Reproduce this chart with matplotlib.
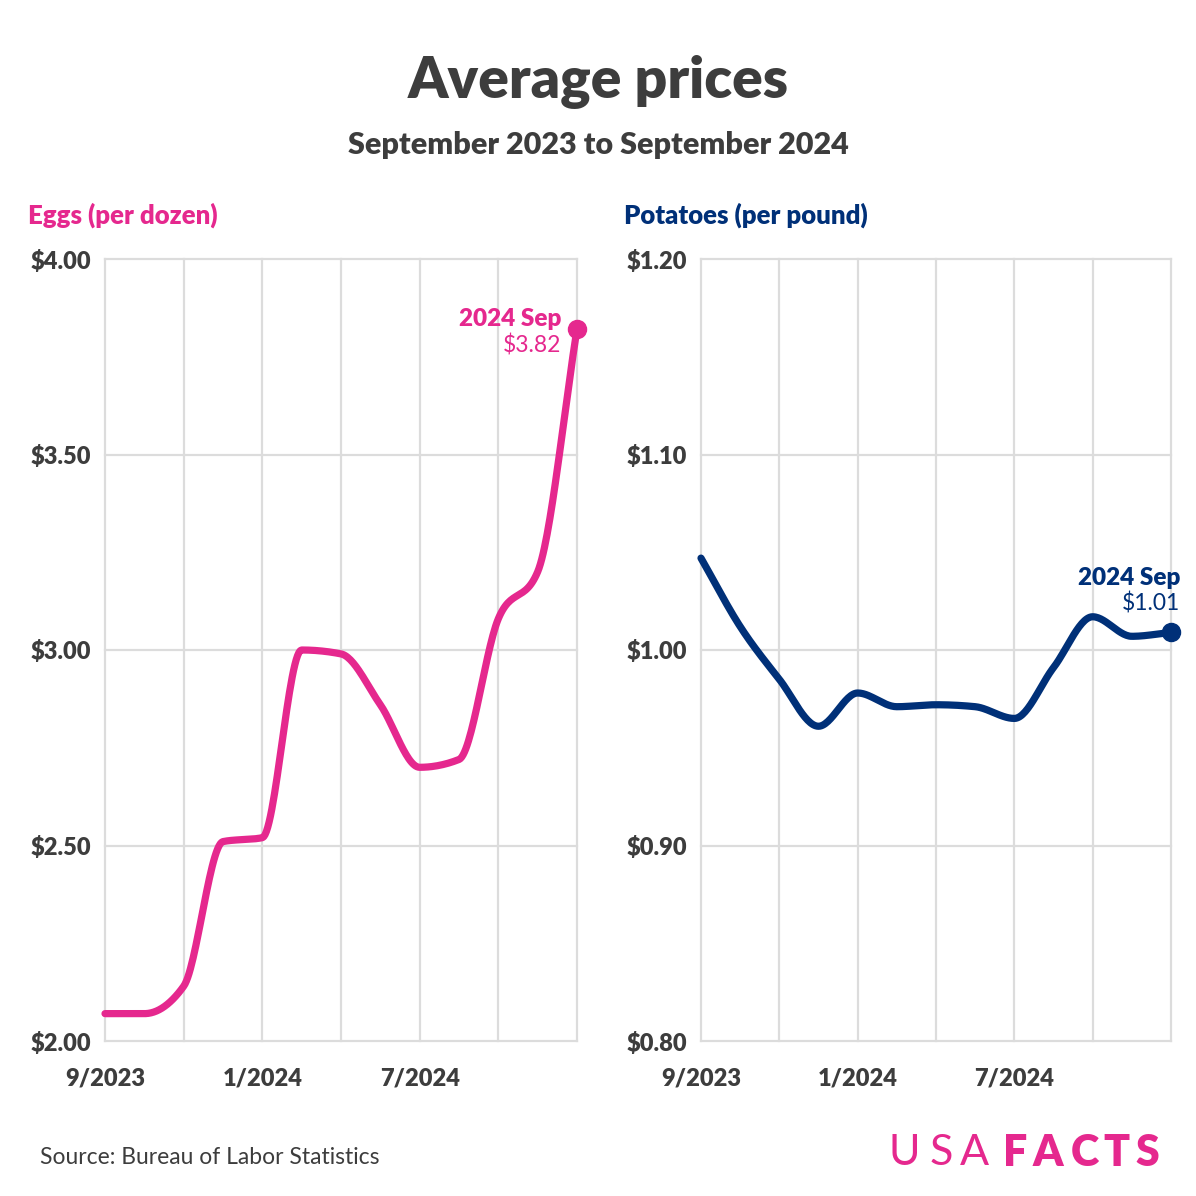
import matplotlib
matplotlib.use("Agg")
import matplotlib.pyplot as plt
import numpy as np

plt.rcParams['font.family'] = ['Lato', 'DejaVu Sans']

# donnees (prix moyens BLS, sept 2023 -> sept 2024)
months = ["9/2023", "10/2023", "11/2023", "12/2023", "1/2024", "2/2024", "3/2024",
          "4/2024", "5/2024", "6/2024", "7/2024", "8/2024", "9/2024"]
eggs = [2.07, 2.07, 2.14, 2.51, 2.52, 3.00, 2.99, 2.86, 2.70, 2.72, 3.08, 3.20, 3.82]
potatoes = [1.047, 1.012, 0.985, 0.961, 0.978, 0.971, 0.972, 0.971, 0.965, 0.991, 1.017, 1.007, 1.009]

xtick_pos = [0, 4, 8]
xtick_labels = ["9/2023", "1/2024", "7/2024"]
eggs_ticks = [2.0, 2.5, 3.0, 3.5, 4.0]
pot_ticks = [0.8, 0.9, 1.0, 1.1, 1.2]

PINK = '#e5288e'
NAVY = '#003078'
TXT = '#3d3d3d'
GRID = '#dcdcdc'


# courbe monotone (comme d3 curveMonotoneX) pour le trace
def monotone(x, y, n=30):
    x = np.asarray(x, float)
    y = np.asarray(y, float)
    h = np.diff(x)
    d = np.diff(y) / h
    m = np.zeros_like(y)
    m[0] = d[0]
    m[-1] = d[-1]
    for i in range(1, len(y) - 1):
        if d[i - 1] * d[i] <= 0:
            m[i] = 0
        else:
            s = (d[i - 1] * h[i] + d[i] * h[i - 1]) / (h[i - 1] + h[i])
            m[i] = np.sign(s) * min(abs(s), 2 * abs(d[i - 1]), 2 * abs(d[i]))
    xs, ys = [], []
    for i in range(len(h)):
        t = np.linspace(0, 1, n)
        h00 = 2 * t**3 - 3 * t**2 + 1
        h10 = t**3 - 2 * t**2 + t
        h01 = -2 * t**3 + 3 * t**2
        h11 = t**3 - t**2
        xs.append(x[i] + t * h[i])
        ys.append(h00 * y[i] + h10 * h[i] * m[i] + h01 * y[i + 1] + h11 * h[i] * m[i + 1])
    return np.concatenate(xs), np.concatenate(ys)


fig = plt.figure(figsize=(11.96, 11.96), dpi=100)
W = 1196.0


def panel(left, right, vals, ticks, color, title):
    ax = fig.add_axes([left / W, (W - 1041) / W, (right - left) / W, 782 / W])
    x = np.arange(len(vals))
    ax.set_xlim(0, 12)
    ax.set_ylim(ticks[0], ticks[-1])
    for t in ticks:
        ax.axhline(t, color=GRID, lw=1.6, clip_on=False, zorder=1)
    for k in range(0, 13, 2):
        ax.axvline(k, color=GRID, lw=1.6, clip_on=False, zorder=1)
    for s in ax.spines.values():
        s.set_visible(False)
    xs, ys = monotone(x, vals)
    ax.plot(xs, ys, color=color, lw=5.2, solid_capstyle='round', clip_on=False, zorder=3)
    ax.plot(x[-1], vals[-1], 'o', ms=13, color=color, clip_on=False, zorder=4)
    ax.set_yticks(ticks)
    ax.set_yticklabels(["$%.2f" % t for t in ticks], fontsize=17, fontweight='heavy', color=TXT)
    ax.set_xticks(xtick_pos)
    ax.set_xticklabels(xtick_labels, fontsize=17, fontweight='heavy', color=TXT)
    ax.tick_params(length=0, axis='y', pad=10)
    ax.tick_params(length=0, axis='x', pad=19)
    fig.text(left / W - 77 / W, 1 - 215 / W, title, fontsize=18.5, fontweight='heavy',
             color=color, va='center', ha='left')
    return ax


axl = panel(105, 577, eggs, eggs_ticks, PINK, "Eggs (per dozen)")
axr = panel(701, 1171, potatoes, pot_ticks, NAVY, "Potatoes (per pound)")

# annotations derniere valeur
axl.annotate("2024 Sep", (12, eggs[-1]), xytext=(-16, 10), textcoords='offset pixels',
             ha='right', va='center', fontsize=17.5, fontweight='heavy', color=PINK)
axl.annotate("$%.2f" % eggs[-1], (12, eggs[-1]), xytext=(-16, -16), textcoords='offset pixels',
             ha='right', va='center', fontsize=16.5, color=PINK)
axr.annotate("2024 Sep", (12, potatoes[-1]), xytext=(9, 54), textcoords='offset pixels',
             ha='right', va='center', fontsize=17.5, fontweight='heavy', color=NAVY,
             annotation_clip=False)
axr.annotate("$%.2f" % potatoes[-1], (12, potatoes[-1]), xytext=(9, 29), textcoords='offset pixels',
             ha='right', va='center', fontsize=16.5, color=NAVY, annotation_clip=False)

fig.text(0.5, 1 - 82 / W, "Average prices", ha='center', va='center', fontsize=41,
         fontweight='heavy', color=TXT)
fig.text(0.5, 1 - 145 / W, "September 2023 to September 2024", ha='center', va='center',
         fontsize=22, fontweight='heavy', color=TXT)
fig.text(40 / W, 1 - 1157 / W, "Source: Bureau of Labor Statistics", ha='left', va='center',
         fontsize=16.5, color=TXT)

# logo, lettre par lettre pour l'espacement
for lettre, xc in zip("USA", [904, 941, 974]):
    fig.text(xc / W, 1 - 1153 / W, lettre, ha='center', va='center', fontsize=31,
             fontweight='normal', color=PINK)
for lettre, xc in zip("FACTS", [1015, 1048, 1085, 1116, 1147]):
    fig.text(xc / W, 1 - 1153 / W, lettre, ha='center', va='center', fontsize=31,
             fontweight='heavy', color=PINK)

fig.savefig("out.png", dpi=100, facecolor='white')
